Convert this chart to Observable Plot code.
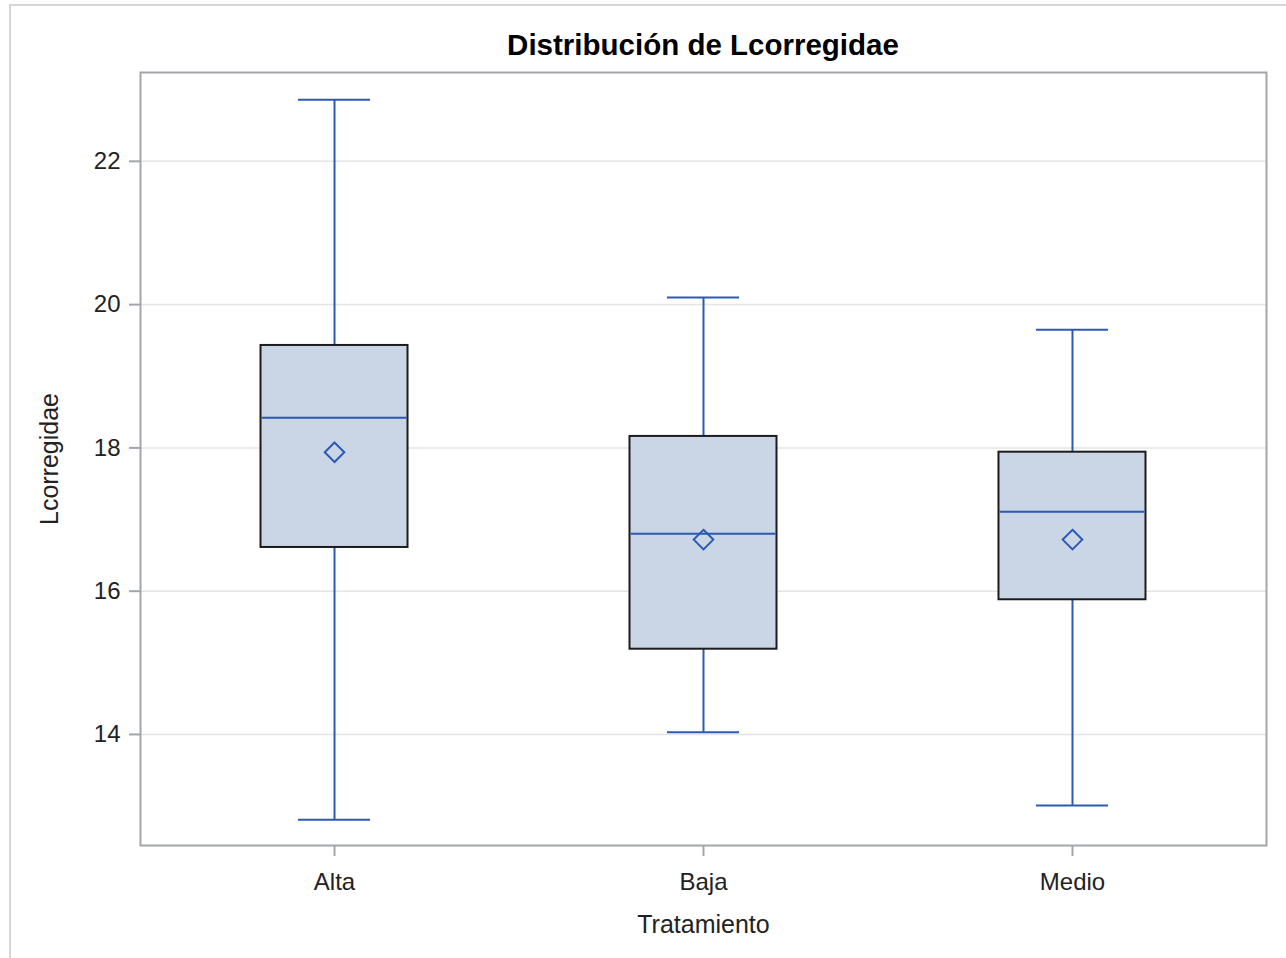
<!DOCTYPE html>
<html lang="es">
<head>
<meta charset="utf-8">
<title>Distribución de Lcorregidae</title>
<script src="https://cdn.jsdelivr.net/npm/d3@7"></script>
<script src="https://cdn.jsdelivr.net/npm/@observablehq/plot@0.6"></script>
<style>
  html, body { margin: 0; padding: 0; background: #fff; overflow: hidden; }
  body { width: 1286px; height: 958px; position: relative; font-family: "Liberation Sans", Arial, sans-serif; }
  #border { position: absolute; left: 9px; top: 4px; width: 1300px; height: 1000px; border: 2px solid #d6d6d6; box-sizing: border-box; pointer-events: none; }
  #title { height: 33px; padding-top: 28px; padding-left: 140px; padding-right: 20px; line-height: 33px; text-align: center; font-weight: bold; font-size: 29.5px; color: #000; }
  #chart svg { display: block; }
</style>
</head>
<body>
<div id="border"></div>
<div id="title">Distribución de Lcorregidae</div>
<div id="chart"></div>
<script>
// Resumen de Lcorregidae por tratamiento
const groups  = ["Alta", "Baja", "Medio"];
const mins    = [12.81, 14.03, 13.01];
const q1s     = [16.61, 15.19, 15.88];
const medians = [18.42, 16.80, 17.11];
const means   = [17.94, 16.72, 16.72];
const q3s     = [19.43, 18.16, 17.94];
const maxs    = [22.86, 20.10, 19.65];
const yTicks  = [14, 16, 18, 20, 22];

const rows = groups.map((g, i) => ({
  g, min: mins[i], q1: q1s[i], median: medians[i], mean: means[i], q3: q3s[i], max: maxs[i]
}));

const blue = "#2c59b4";
const font = "Liberation Sans, Arial, sans-serif";

const chart = Plot.plot({
  width: 1286,
  height: 897,
  marginTop: 11,
  marginBottom: 113,
  marginLeft: 140,
  marginRight: 20,
  style: { fontFamily: font, background: "white", color: "#222" },
  x: { domain: groups, type: "band", paddingInner: 0.6016, paddingOuter: 0.3266, round: false },
  y: { domain: [12.45, 23.24] },
  marks: [
    Plot.ruleY(yTicks, { stroke: "#e4e4e4", strokeWidth: 1.5 }),
    Plot.ruleX(rows, { x: "g", y1: "q3", y2: "max", stroke: blue, strokeWidth: 2 }),
    Plot.ruleX(rows, { x: "g", y1: "min", y2: "q1", stroke: blue, strokeWidth: 2 }),
    Plot.tickY(rows, { x: "g", y: "max", stroke: blue, strokeWidth: 2, insetLeft: 37.5, insetRight: 37.5 }),
    Plot.tickY(rows, { x: "g", y: "min", stroke: blue, strokeWidth: 2, insetLeft: 37.5, insetRight: 37.5 }),
    Plot.barY(rows, { x: "g", y1: "q1", y2: "q3", fill: "#cad5e5", stroke: "#1c1c1c", strokeWidth: 2 }),
    Plot.tickY(rows, { x: "g", y: "median", stroke: blue, strokeWidth: 2, insetLeft: 1, insetRight: 1 }),
    Plot.dot(rows, { x: "g", y: "mean", symbol: "diamond2", r: 8.8, stroke: blue, strokeWidth: 2, fill: "none" }),
    Plot.frame({ stroke: "#a2a6aa", strokeWidth: 2 }),
    Plot.axisY({ ticks: yTicks, tickSize: 11, tickPadding: 9, stroke: "#a2a6aa", strokeWidth: 2, fill: "#222", fontSize: 24, label: null }),
    Plot.axisX({ tickSize: 11, tickPadding: 16, stroke: "#a2a6aa", strokeWidth: 2, fill: "#222", fontSize: 24, label: null }),
    Plot.text(["Lcorregidae"], { frameAnchor: "left", rotate: -90, dx: -90.5, textAnchor: "middle", lineAnchor: "middle", fontSize: 25, fill: "#222" }),
    Plot.text(["Tratamiento"], { frameAnchor: "bottom", dy: 79, textAnchor: "middle", lineAnchor: "middle", fontSize: 25, fill: "#222" })
  ]
});

document.getElementById("chart").appendChild(chart);
</script>
</body>
</html>
